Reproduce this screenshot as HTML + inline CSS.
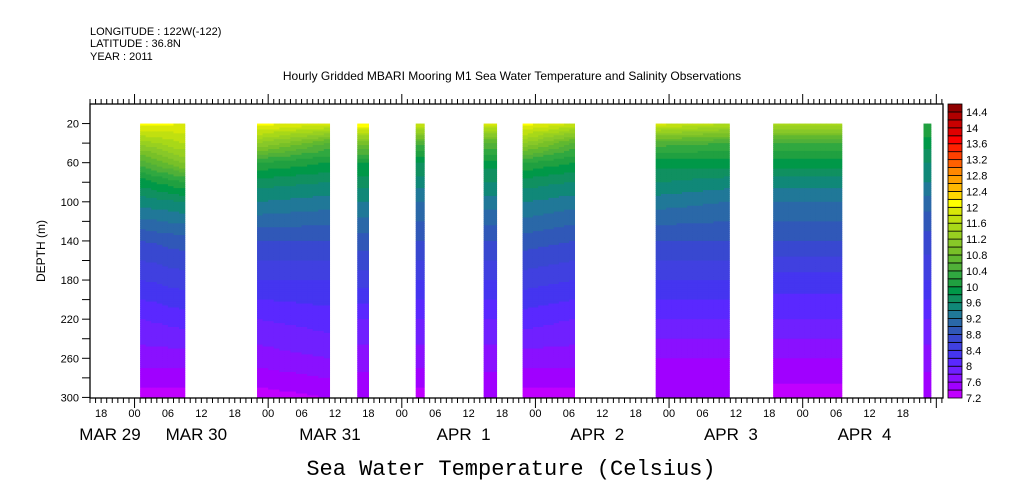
<!DOCTYPE html>
<html><head><meta charset="utf-8"><style>
body{margin:0;background:#fff;}
svg{display:block;font-family:"Liberation Sans",sans-serif;}
.pre{white-space:pre;}
</style></head><body>
<svg id="chart" width="1009" height="504" viewBox="0 0 1009 504" xmlns="http://www.w3.org/2000/svg">
<rect width="1009" height="504" fill="#fff"/>
<text x="90" y="35" font-size="11">LONGITUDE : 122W(-122)</text>
<text x="90" y="47" font-size="11">LATITUDE : 36.8N</text>
<text x="90" y="60" font-size="11">YEAR : 2011</text>
<text x="512" y="80" font-size="12" text-anchor="middle">Hourly Gridded MBARI Mooring M1 Sea Water Temperature and Salinity Observations</text>
<text transform="translate(45,251) rotate(-90)" font-size="12" text-anchor="middle">DEPTH (m)</text>
<text x="511" y="475" font-size="22" font-family="Liberation Mono, monospace" text-anchor="middle">Sea Water Temperature (Celsius)</text>
<g id="field"></g>
<g id="axes"></g>
<g id="cbar"></g>
</svg>
<script>
const depths=[20,40,60,80,100,140,180,220,260,300];
const blockStart=[1,22,40,50.5,62.7,69.7,93.6,114.7,141.7];
const blockEnd=[9,35,42,52,65,79,106.8,127,143];
const profStart=[
[12.1,11.3,10.5,9.9,9.5,8.8,8.4,8.0,7.7,7.3],
[12.1,11.2,10.2,9.7,9.4,8.8,8.4,8.0,7.7,7.3],
[12.2,10.9,10.0,9.7,9.4,8.9,8.5,8.0,7.7,7.4],
[11.8,10.5,9.8,9.5,9.2,8.8,8.4,8.0,7.7,7.3],
[11.9,10.6,9.9,9.6,9.3,8.8,8.4,8.0,7.7,7.4],
[12.1,11.2,10.2,9.7,9.4,8.9,8.5,8.1,7.7,7.3],
[11.9,10.5,9.9,9.6,9.3,8.8,8.4,8.0,7.6,7.4],
[11.5,10.4,9.9,9.5,9.2,8.8,8.3,8.0,7.6,7.3],
[10.2,9.9,9.6,9.4,9.1,8.7,8.4,8.0,7.7,7.4]];
const profEnd=[
[12.0,11.6,11.0,10.2,9.6,8.9,8.5,8.1,7.7,7.3],
[11.9,10.6,10.0,9.6,9.3,8.8,8.4,8.1,7.8,7.4],
[12.2,10.9,10.0,9.7,9.4,8.9,8.5,8.0,7.7,7.4],
[11.8,10.5,9.8,9.5,9.2,8.8,8.4,8.0,7.7,7.3],
[11.9,10.6,9.9,9.6,9.3,8.8,8.4,8.0,7.7,7.4],
[11.8,10.6,10.0,9.6,9.3,8.8,8.4,8.0,7.7,7.3],
[11.6,10.4,9.9,9.5,9.2,8.8,8.4,8.0,7.6,7.4],
[11.5,10.4,9.9,9.5,9.2,8.8,8.3,8.0,7.6,7.3],
[10.2,9.9,9.6,9.4,9.1,8.7,8.4,8.0,7.7,7.4]];
const levelColors=["#c000ff","#a000ff","#8a10ff","#7020ff","#5a28ff","#4535f0","#4040e0","#3848d0","#3058b8","#2a68a8","#207898","#108878","#109060","#009848","#20a040","#30a840","#50b038","#60b830","#78c028","#88c828","#98d020","#a8d818","#c0e010","#d8e808","#ffff00","#ffd800","#ffb800","#ffa000","#ff8800","#ff6000","#ff4000","#ff2000","#ff0000","#e00000","#c80000","#b00000","#900000"];
const cbarLabels=["7.2","7.6","8","8.4","8.8","9.2","9.6","10","10.4","10.8","11.2","11.6","12","12.4","12.8","13.2","13.6","14","14.4"];
const yTickLabels=[20,60,100,140,180,220,260,300];
const hourLabels=["18","00","06","12","18","00","06","12","18","00","06","12","18","00","06","12","18","00","06","12","18","00","06","12","18"];
const dayLabels=["MAR 29","MAR 30","MAR 31","APR  1","APR  2","APR  3","APR  4"];

const NS="http://www.w3.org/2000/svg";
const X0=90,X1=943,Y0=104,Y1=398;
const H0=-8,H1=145.2;
const xs=h=>X0+(h-H0)/(H1-H0)*(X1-X0);
const ys=d=>Y0+d/300.6*(Y1-Y0);
function el(tag,attrs,parent){const e=document.createElementNS(NS,tag);for(const k in attrs)e.setAttribute(k,attrs[k]);parent.appendChild(e);return e;}
function colorFor(t){let i=Math.floor((t-7.2)/0.2);i=Math.max(0,Math.min(levelColors.length-1,i));return levelColors[i];}
function interpProf(p,d){for(let i=0;i<depths.length-1;i++){if(d<=depths[i+1]){const f=(d-depths[i])/(depths[i+1]-depths[i]);return p[i]+f*(p[i+1]-p[i]);}}return p[p.length-1];}

const field=document.getElementById('field');
for(let b=0;b<blockStart.length;b++){
  const g=el('g',{},field);
  
  
  const t0=blockStart[b],t1=blockEnd[b];
  const n=Math.max(1,Math.ceil(t1-t0));
  for(let k=0;k<n;k++){
    const ha=t0+k*(t1-t0)/n,hb=t0+(k+1)*(t1-t0)/n;
    const f=n>1?k/(n-1):0;
    const p=profStart[b].map((v,i)=>v+f*(profEnd[b][i]-v));
    for(let d=20;d<300;d+=2){
      const t=interpProf(p,d+1);
      el('rect',{x:xs(ha),y:ys(d),width:xs(hb)-xs(ha)+0.6,height:ys(d+2)-ys(d)+0.6,fill:colorFor(t)},g);
    }
  }
}

const ax=document.getElementById('axes');
el('rect',{x:X0,y:Y0,width:X1-X0,height:Y1-Y0,fill:'none',stroke:'#000','stroke-width':1.3},ax);
for(let h=Math.ceil(H0);h<=H1;h++){
  const x=xs(h),major=((h%24)+24)%24===0;
  el('line',{x1:x,y1:Y1,x2:x,y2:Y1+(major?10:5),stroke:'#000'},ax);
  el('line',{x1:x,y1:Y0,x2:x,y2:Y0-(major?10:5),stroke:'#000'},ax);
}
hourLabels.forEach((lab,i)=>{
  const h=-6+i*6;
  const t=el('text',{x:xs(h),y:417,'font-size':11,'text-anchor':'middle'},ax);
  
  
  t.textContent=lab;
});
dayLabels.forEach((lab,i)=>{
  const c=Math.max(110,xs(-12+i*24)-5);
  const t=el('text',{x:c,y:440,'font-size':17,'text-anchor':'middle','class':'pre'},ax);
  
  
  t.textContent=lab;
});
for(let d=20;d<=300;d+=20){el('line',{x1:X0,y1:ys(d),x2:X0-8,y2:ys(d),stroke:'#000'},ax);}
yTickLabels.forEach(d=>{
  const t=el('text',{x:X0-11,y:ys(d)+4,'font-size':11,'text-anchor':'end'},ax);
  
  
  t.textContent=d;
});

const cb=document.getElementById('cbar');
const CX=948,CW=14,bh=(Y1-Y0)/levelColors.length;
levelColors.forEach((c,i)=>{
  const r=el('rect',{x:CX,y:Y1-(i+1)*bh,width:CW,height:bh,fill:c,stroke:'#000','stroke-width':0.8},cb);
  
  
});
cbarLabels.forEach((lab,i)=>{
  const t=el('text',{x:CX+CW+4,y:Y1-i*2*bh+4,'font-size':11},cb);
  
  
  t.textContent=lab;
});
</script>
</body></html>
